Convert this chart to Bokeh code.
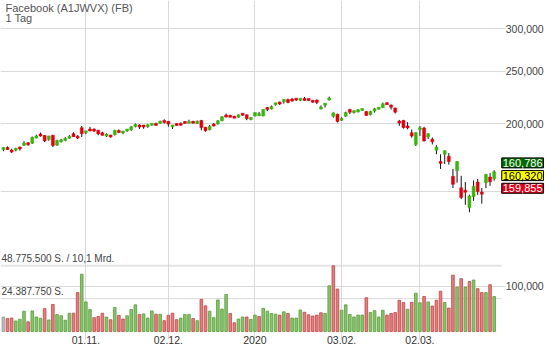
import numpy as np
import pandas as pd
from bokeh.plotting import figure
from bokeh.models import Range1d, LinearScale, FixedTicker, Label, ColumnDataSource
from bokeh.embed import file_html
from bokeh.resources import INLINE

# ---------------- data ----------------
title = "Facebook (A1JWVX) (FB)"
subtitle = "1 Tag"
first_day, last_day = "2019-10-04", "2020-03-26"
holidays = ["2019-11-28", "2019-12-25", "2020-01-01", "2020-01-20", "2020-02-17"]

opens = [
    179.4, 180.2, 178.2, 179.0, 180.5, 182.4, 184.0, 184.0, 188.5, 190.8,
    190.3, 187.0, 190.4, 182.5, 185.6, 186.3, 188.2, 191.7, 189.6, 196.7,
    193.0, 194.8, 195.0, 194.6, 192.4, 190.3, 190.0, 190.8, 193.8, 192.9,
    194.3, 194.8, 197.8, 198.6, 198.2, 198.0, 199.5, 199.9, 200.5, 202.4,
    202.1, 197.6, 200.0, 199.9, 201.3, 201.1, 201.6, 200.3, 202.9, 197.0,
    195.0, 199.5, 199.7, 202.5, 207.0, 206.8, 206.3, 205.6, 208.7, 207.9,
    204.0, 206.8, 207.2, 206.7, 213.8, 213.0, 217.5, 219.0, 219.6, 221.9,
    221.5, 222.6, 222.0, 222.2, 222.3, 220.8, 221.4, 213.1, 217.1, 221.4,
    206.5, 208.4, 203.4, 206.6, 212.5, 210.5, 210.3, 212.2, 210.8, 207.8,
    211.1, 213.4, 214.3, 218.4, 216.6, 214.0, 202.2, 202.8, 197.5, 192.4,
    183.1, 195.1, 196.4, 189.1, 187.3, 178.7, 169.7, 175.6, 174.1, 159.8,
    163.7, 152.2, 150.5, 139.8, 146.5, 156.0, 149.4, 155.5, 159.3, 158.1,
]
highs = [
    181.0, 181.6, 179.8, 180.5, 181.5, 185.6, 185.0, 189.3, 190.9, 192.6,
    190.6, 190.0, 190.8, 186.9, 187.5, 188.9, 190.5, 192.9, 190.5, 198.1,
    193.9, 197.4, 196.1, 194.8, 193.4, 192.0, 190.8, 195.0, 195.2, 194.0,
    195.6, 198.0, 200.2, 199.6, 199.0, 199.5, 200.3, 200.9, 202.7, 203.8,
    202.2, 199.0, 200.4, 201.0, 202.2, 203.5, 202.5, 202.8, 203.3, 197.4,
    198.9, 200.5, 203.1, 206.5, 208.9, 207.7, 206.8, 208.0, 208.9, 207.9,
    205.6, 209.8, 210.4, 212.8, 214.6, 216.2, 218.4, 219.9, 222.0, 222.6,
    223.2, 222.6, 222.8, 224.3, 222.5, 221.2, 221.9, 216.3, 218.4, 224.6,
    209.9, 208.7, 205.6, 210.6, 213.2, 211.2, 212.9, 213.5, 211.0, 211.4,
    214.0, 214.6, 218.9, 219.0, 217.2, 214.2, 203.3, 203.4, 201.4, 195.2,
    193.0, 198.0, 197.4, 192.0, 188.6, 182.5, 175.6, 178.6, 176.5, 165.0,
    170.6, 160.2, 156.0, 147.8, 157.0, 158.0, 152.0, 161.5, 162.0, 164.0,
]
lows = [
    177.9, 178.9, 176.6, 177.8, 178.4, 181.9, 182.1, 183.5, 187.9, 189.3,
    184.9, 186.0, 181.0, 182.1, 184.6, 185.6, 187.6, 189.1, 187.4, 189.0,
    191.3, 193.8, 193.1, 190.4, 190.1, 189.0, 188.5, 190.3, 192.4, 191.3,
    193.3, 194.1, 196.9, 195.6, 195.8, 196.6, 198.3, 198.5, 199.9, 200.2,
    197.6, 195.6, 198.4, 198.4, 200.2, 200.4, 200.3, 199.8, 194.5, 193.3,
    194.5, 197.7, 199.3, 202.2, 205.5, 205.6, 204.9, 205.3, 206.9, 203.1,
    203.0, 206.3, 206.9, 206.5, 211.0, 212.6, 216.1, 216.6, 218.0, 218.3,
    219.8, 220.4, 220.4, 220.6, 220.8, 218.8, 217.5, 212.6, 214.4, 220.8,
    205.3, 201.1, 202.5, 206.2, 208.5, 208.9, 209.9, 211.3, 206.8, 207.3,
    209.8, 212.4, 213.9, 216.6, 212.5, 209.0, 198.3, 195.9, 195.3, 188.5,
    181.8, 189.9, 185.4, 187.4, 183.1, 175.6, 164.9, 168.5, 168.0, 152.0,
    155.5, 145.0, 141.5, 137.1, 144.0, 147.7, 142.2, 152.0, 153.5, 156.9,
]
closes = [
    180.45, 179.68, 177.75, 179.85, 180.03, 184.19, 183.28, 188.89, 189.55, 190.39,
    185.85, 189.76, 182.34, 186.15, 186.38, 187.89, 189.40, 189.31, 188.25, 191.65,
    193.62, 194.72, 194.32, 191.55, 190.42, 190.84, 189.61, 194.47, 193.19, 193.15,
    195.10, 197.40, 199.32, 197.51, 197.93, 198.82, 199.79, 198.97, 202.00, 201.64,
    199.70, 198.82, 198.71, 199.36, 201.05, 201.34, 200.87, 202.26, 196.75, 194.11,
    197.92, 198.39, 202.50, 206.06, 206.30, 206.18, 205.12, 207.79, 208.10, 204.41,
    205.25, 209.78, 208.67, 212.60, 213.06, 215.22, 218.30, 218.06, 221.91, 219.06,
    221.15, 221.77, 222.14, 221.44, 221.32, 219.76, 218.90, 214.87, 217.79, 223.23,
    209.53, 201.91, 204.19, 209.83, 210.11, 210.85, 212.33, 213.06, 207.19, 210.76,
    213.14, 214.18, 217.80, 217.49, 214.58, 210.18, 200.72, 196.77, 197.20, 189.75,
    192.47, 196.44, 185.89, 191.76, 185.17, 181.09, 169.50, 178.19, 170.24, 154.47,
    170.28, 146.01, 149.42, 146.96, 153.13, 149.73, 148.10, 160.98, 156.21, 163.00,
]
volume_mio = [
    10.8, 9.6, 10.0, 7.9, 9.1, 15.1, 7.2, 15.3, 10.8, 9.8,
    17.0, 8.6, 20.1, 12.7, 11.7, 8.4, 13.6, 13.6, 28.9, 42.5,
    22.0, 16.3, 10.3, 11.2, 13.6, 10.8, 8.8, 17.9, 12.0, 9.3,
    11.7, 16.3, 19.8, 12.7, 13.1, 10.0, 15.3, 12.9, 12.9, 8.1,
    12.0, 13.6, 8.8, 10.0, 12.7, 12.7, 9.6, 8.1, 23.9, 19.1,
    15.1, 10.3, 23.4, 16.7, 27.5, 13.4, 6.5, 9.3, 10.8, 10.8,
    9.1, 12.2, 11.2, 17.2, 15.1, 13.4, 12.9, 12.2, 14.6, 13.4,
    10.0, 10.0, 16.0, 14.3, 12.4, 11.5, 12.2, 13.9, 13.4, 33.9,
    48.7755, 31.5, 15.8, 19.8, 12.7, 10.8, 12.2, 12.2, 25.1, 14.1,
    15.5, 10.8, 15.8, 12.2, 13.4, 14.1, 23.2, 21.5, 16.5, 21.7,
    28.4, 21.3, 26.0, 22.0, 18.9, 23.2, 29.9, 21.5, 17.4, 41.8,
    33.0, 39.2, 33.0, 37.1, 38.2, 31.8, 28.9, 28.9, 34.7, 26.0,
]
turnover_text = "10,1 Mrd."

tick_dates = ["2019-11-01", "2019-12-02", "2020-01-02", "2020-02-03", "2020-03-02"]
tick_labels = ["01.11.", "02.12.", "2020", "03.02.", "02.03."]
price_ticks = [100, 150, 200, 250, 300]
price_tick_labels = ["100,000", "", "200,000", "250,000", "300,000"]

quote_values = [160.786, 160.320, 159.855]
quote_texts = ["160,786", "160,320", "159,855"]

# ---------------- derived ----------------
dates = pd.bdate_range(first_day, last_day, freq="C", holidays=holidays)
n = len(closes)
x = np.arange(n)
tick_pos = [int(dates.get_loc(pd.Timestamp(d))) for d in tick_dates]

o = np.array(opens); c = np.array(closes); h = np.array(highs); l = np.array(lows)
vol = np.array(volume_mio) * 1e6
vmax = vol.max()

UP, DOWN = "#3cb40f", "#e0000f"
body_col = [UP if cc >= oo else DOWN for oo, cc in zip(o, c)]
top = np.maximum(o, c); bot = np.minimum(o, c)
min_ratio = 1.0085
small = top / bot < min_ratio
mid = np.sqrt(top * bot)
top = np.where(small, mid * np.sqrt(min_ratio), top)
bot = np.where(small, mid / np.sqrt(min_ratio), bot)

vfill, vline = [], []
for i in range(n):
    if i == 0:
        vfill.append("#b8b8b8"); vline.append("#9a9a9a")
    elif c[i] >= c[i - 1]:
        vfill.append("#86c46a"); vline.append("#5a9c3c")
    else:
        vfill.append("#e27e7e"); vline.append("#c04848")

src = ColumnDataSource(dict(x=x, o=o, h=h, l=l, c=c, top=top, bot=bot, col=body_col,
                            vol=vol, vfill=vfill, vline=vline))

FONT = "Liberation Sans"
x0, x_end = -0.7, 131.2          # full canvas width (data area + price-label strip)
x_data_end = 120.8               # right end of the volume reference lines
x_label = 121.8                  # left edge of the price labels

p = figure(width=544, height=346,
           x_range=Range1d(x0, x_end), y_range=Range1d(81.7, 338.5),
           y_axis_type="log", y_axis_location=None,
           output_backend="svg", toolbar_location=None,
           min_border_left=0, min_border_top=0, min_border_bottom=0, min_border_right=0,
           outline_line_color=None, background_fill_color="white", border_fill_color="white")

p.extra_y_ranges = {"volume": Range1d(-1.43e6, 245.3e6)}
p.extra_y_scales = {"volume": LinearScale()}

# grids
p.xgrid.ticker = FixedTicker(ticks=tick_pos)
p.ygrid.ticker = FixedTicker(ticks=price_ticks)
for g in (p.xgrid[0], p.ygrid[0]):
    g.grid_line_color = "#d9d9d9"
    g.grid_line_width = 1

# bottom axis
xa = p.xaxis[0]
xa.ticker = FixedTicker(ticks=tick_pos)
xa.major_label_overrides = {tp: lab for tp, lab in zip(tick_pos, tick_labels)}
xa.axis_line_color = None
xa.major_tick_in = 0
xa.major_tick_out = 6
xa.major_tick_line_color = "#d9d9d9"
xa.minor_tick_line_color = None
xa.major_label_standoff = -4
xa.major_label_text_font = FONT
xa.major_label_text_font_size = "10.5px"
xa.major_label_text_color = "#333333"

# volume reference lines
p.segment(x0=[x0, x0], x1=[x_data_end, x_data_end], y0=[vmax, vmax / 2], y1=[vmax, vmax / 2],
          y_range_name="volume", line_color=["#e4e4e4", "#d9d9d9"], line_width=[2, 1],
          level="underlay")

# volume bars
p.vbar(x="x", width=0.64, top="vol", bottom=0, source=src, y_range_name="volume",
       fill_color="vfill", line_color="vline", line_width=0.8)

# candles
p.segment(x0="x", y0="l", x1="x", y1="h", source=src, line_color="#111111", line_width=1)
p.vbar(x="x", width=0.72, top="top", bottom="bot", source=src,
       fill_color="col", line_color="col", line_width=0.5)

# price scale labels (right strip)
for t, lab in zip(price_ticks, price_tick_labels):
    if lab:
        p.add_layout(Label(x=x_label, y=t, text=lab, text_align="left", text_baseline="middle",
                           text_font=FONT, text_font_size="10.5px", text_color="#444444",
                           background_fill_color="white"))

# texts
def de_int(v):
    return f"{v:,.0f}".replace(",", ".")

p.add_layout(Label(x=x0, y=338.5, x_offset=5, y_offset=-1, text=title,
                   text_baseline="top", text_font=FONT, text_font_size="11px",
                   text_color="#555555"))
p.add_layout(Label(x=x0, y=338.5, x_offset=5, y_offset=-11, text=subtitle,
                   text_baseline="top", text_font=FONT, text_font_size="11px",
                   text_color="#555555"))
p.add_layout(Label(x=x0, y=vmax, y_range_name="volume", x_offset=1, y_offset=2,
                   text=f"{de_int(vmax)} S. / {turnover_text}", text_baseline="bottom",
                   text_font=FONT, text_font_size="10px", text_color="#444444"))
p.add_layout(Label(x=x0, y=vmax / 2, y_range_name="volume", x_offset=1, y_offset=2,
                   text=f"{de_int(vmax / 2)} S.", text_baseline="bottom",
                   text_font=FONT, text_font_size="10px", text_color="#444444"))

badge_bg = ["#006b00", "#ffff00", "#e0001a"]
badge_fg = ["white", "black", "white"]
badge_off = [12.7, 0, -12.7]
for val, txt, bg, fg, off in zip(quote_values, quote_texts, badge_bg, badge_fg, badge_off):
    p.add_layout(Label(x=x_end, y=quote_values[1], x_offset=-1, y_offset=off, text=txt,
                       text_align="right", text_baseline="middle",
                       text_font=FONT, text_font_size="11px", text_color=fg,
                       background_fill_color=bg, border_line_color="black",
                       border_line_width=1, padding=1))

open("out.html", "w").write(file_html(p, INLINE))
